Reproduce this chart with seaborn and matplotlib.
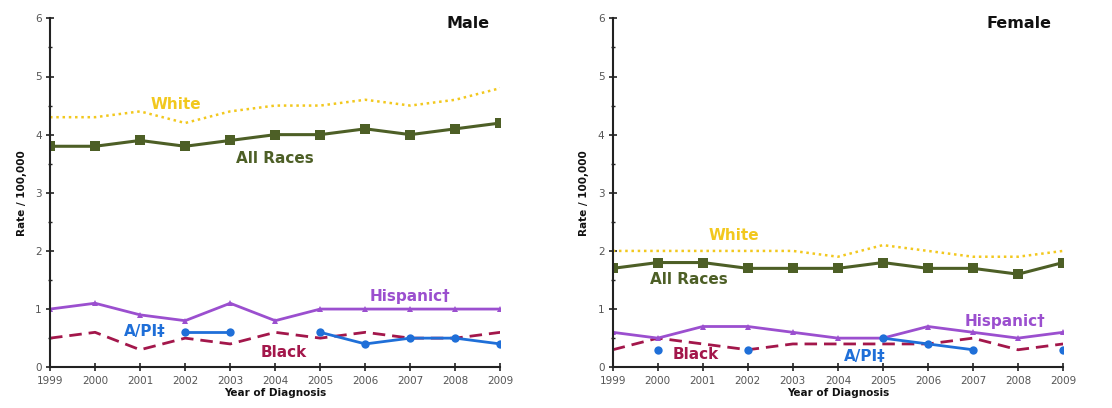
import numpy as np
import pandas as pd
import seaborn as sns
import matplotlib.pyplot as plt
from matplotlib.ticker import MultipleLocator

sns.set_theme(style="white")
plt.rcParams["font.family"] = ["DejaVu Sans"]

nan = np.nan
years = list(range(1999, 2010))

male_all = [3.8, 3.8, 3.9, 3.8, 3.9, 4.0, 4.0, 4.1, 4.0, 4.1, 4.2]
male_white = [4.3, 4.3, 4.4, 4.2, 4.4, 4.5, 4.5, 4.6, 4.5, 4.6, 4.8]
male_hisp = [1.0, 1.1, 0.9, 0.8, 1.1, 0.8, 1.0, 1.0, 1.0, 1.0, 1.0]
male_black = [0.5, 0.6, 0.3, 0.5, 0.4, 0.6, 0.5, 0.6, 0.5, 0.5, 0.6]
male_api = [nan, nan, nan, 0.6, 0.6, nan, 0.6, 0.4, 0.5, 0.5, 0.4]

female_all = [1.7, 1.8, 1.8, 1.7, 1.7, 1.7, 1.8, 1.7, 1.7, 1.6, 1.8]
female_white = [2.0, 2.0, 2.0, 2.0, 2.0, 1.9, 2.1, 2.0, 1.9, 1.9, 2.0]
female_hisp = [0.6, 0.5, 0.7, 0.7, 0.6, 0.5, 0.5, 0.7, 0.6, 0.5, 0.6]
female_black = [0.3, 0.5, 0.4, 0.3, 0.4, 0.4, 0.4, 0.4, 0.5, 0.3, 0.4]
female_api = [nan, 0.3, nan, 0.3, nan, nan, 0.5, 0.4, 0.3, nan, 0.3]

colors = {
    "All Races": "#4d5f26",
    "White": "#f2c81e",
    "Hispanic†": "#9b4fcf",
    "Black": "#a3174b",
    "A/PI‡": "#1f6fd8",
}

styles = {
    "White": dict(linestyle=(0, (1, 1.5)), linewidth=1.8, marker=None),
    "Black": dict(linestyle=(0, (4.5, 2.5)), linewidth=2.0, marker=None),
    "Hispanic†": dict(linestyle="-", linewidth=2.0, marker="^", markersize=4),
    "A/PI‡": dict(linestyle="-", linewidth=2.0, marker="o", markersize=6),
    "All Races": dict(linestyle="-", linewidth=2.2, marker="s", markersize=6.5),
}

# label positions (year, rate) for each panel
male_labels = {
    "White": (2001.8, 4.52),
    "All Races": (2004.0, 3.59),
    "Hispanic†": (2007.0, 1.22),
    "A/PI‡": (2001.1, 0.62),
    "Black": (2004.2, 0.26),
}
female_labels = {
    "White": (2001.7, 2.27),
    "All Races": (2000.7, 1.51),
    "Hispanic†": (2007.7, 0.79),
    "Black": (2000.85, 0.21),
    "A/PI‡": (2004.6, 0.19),
}


def plot_series(ax, values, name):
    df = pd.DataFrame({"Year": years, "Rate": values})
    # break the line where data is missing
    df["seg"] = df["Rate"].isna().cumsum()
    df = df.dropna()
    for _, part in df.groupby("seg"):
        sns.lineplot(
            data=part, x="Year", y="Rate", ax=ax, color=colors[name],
            markeredgewidth=0, errorbar=None, **styles[name],
        )


def draw_panel(ax, series, labels, title):
    for name in ["White", "Black", "Hispanic†", "A/PI‡", "All Races"]:
        plot_series(ax, series[name], name)
    for name, (x, y) in labels.items():
        ax.text(x, y, name, color=colors[name], fontsize=11, fontweight="bold",
                ha="center", va="center")
    ax.text(2008.75, 5.92, title, fontsize=11.5, fontweight="bold",
            ha="right", va="center", color="#111111")

    ax.set_xlim(1999, 2009)
    ax.set_ylim(0, 6)
    ax.set_xticks(years)
    ax.yaxis.set_major_locator(MultipleLocator(1))
    ax.yaxis.set_minor_locator(MultipleLocator(0.5))
    ax.tick_params(axis="both", which="major", direction="inout", length=6,
                   width=1.2, color="#222222", labelsize=7.5,
                   labelcolor="#555555", pad=3, bottom=True, left=True)
    ax.tick_params(axis="y", which="minor", direction="inout", length=3,
                   width=1.0, color="#222222", left=True)
    for side in ["top", "right"]:
        ax.spines[side].set_visible(False)
    for side in ["left", "bottom"]:
        ax.spines[side].set_color("#222222")
        ax.spines[side].set_linewidth(1.5)
    ax.set_xlabel("Year of Diagnosis", fontsize=7.5, fontweight="bold",
                  labelpad=2, color="#111111")
    ax.set_ylabel("Rate / 100,000", fontsize=7.5, fontweight="bold",
                  labelpad=6, color="#111111")
    ax.grid(False)


fig = plt.figure(figsize=(11.12, 4.08), dpi=100)
ax1 = fig.add_axes([0.045, 0.1, 0.405, 0.855])
ax2 = fig.add_axes([0.551, 0.1, 0.405, 0.855])

draw_panel(ax1, {
    "All Races": male_all, "White": male_white, "Hispanic†": male_hisp,
    "Black": male_black, "A/PI‡": male_api,
}, male_labels, "Male")
draw_panel(ax2, {
    "All Races": female_all, "White": female_white, "Hispanic†": female_hisp,
    "Black": female_black, "A/PI‡": female_api,
}, female_labels, "Female")

fig.savefig("out.png", dpi=100)
